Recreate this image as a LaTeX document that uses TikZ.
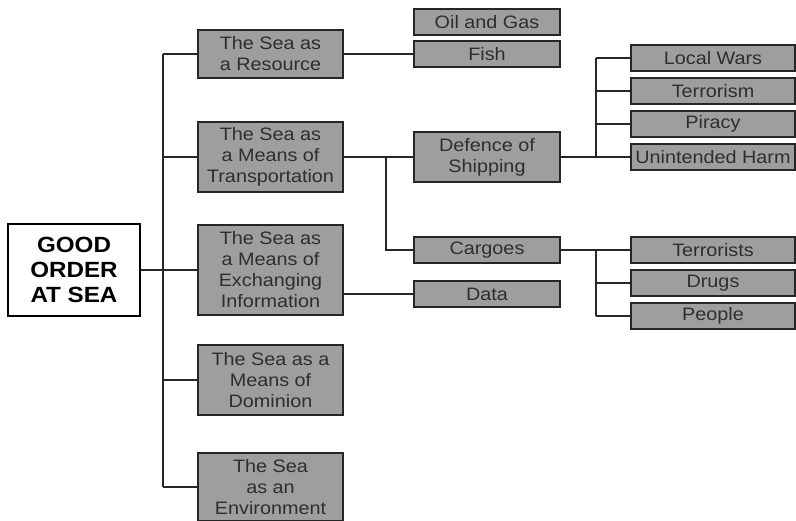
\documentclass[tikz,border=0pt]{standalone}
\usepackage{fontspec}
\setmainfont[FakeStretch=1.1]{Liberation Sans}
\usetikzlibrary{positioning}
\definecolor{boxgray}{HTML}{9E9E9E}
\definecolor{inkgray}{HTML}{2E2E2E}

\begin{document}
\begin{tikzpicture}[x=1pt, y=-1pt,
    rootbox/.style={rectangle, draw=black, line width=1.6pt, fill=white, align=center, inner sep=0pt, minimum width=132pt, minimum height=92pt, font=\fontsize{22}{25}\selectfont\bfseries},
    theme/.style={rectangle, draw=black!85, line width=1.6pt, fill=boxgray, text=inkgray, align=center, inner sep=0pt, minimum width=145pt, font=\fontsize{18}{21}\selectfont},
    item/.style={theme, minimum height=26pt},
    link/.style={draw=black!85, line width=1.8pt},
]
\useasboundingbox (0,0) rectangle (796,520);

% root and the five uses of the sea
\node[rootbox] (root) at (74,270) {GOOD\\ORDER\\AT SEA};
\node[theme, minimum height=48pt] (res) at (270.5,54) {The Sea as\\a Resource};
\node[theme, minimum height=70pt] (trans) at (270.5,157) {The Sea as\\a Means of\\Transportation};
\node[theme, minimum height=90pt] (info) at (270.5,270) {The Sea as\\a Means of\\Exchanging\\Information};
\node[theme, minimum height=70pt] (dom) at (270.5,380) {The Sea as a\\Means of\\Dominion};
\node[theme, minimum height=68pt] (env) at (270.5,487) {The Sea\\as an\\Environment};

\coordinate (trunk) at (163,0);
\draw[link] (root.east) -- (info.west);
\draw[link] (res.west -| trunk) -- (env.west -| trunk);
\foreach \n in {res, trans, dom, env} {
    \draw[link] (\n.west -| trunk) -- (\n.west);
}

% second level
\node[item, minimum width=146pt] (oil) at (487,22) {Oil and Gas};
\node[item, minimum width=146pt] (fish) at (487,54) {Fish};
\node[theme, minimum width=146pt, minimum height=50pt] (ship) at (487,157) {Defence of\\Shipping};
\node[item, minimum width=146pt] (cargo) at (487,250) {Cargoes};
\node[item, minimum width=146pt] (data) at (487,294) {Data};

\draw[link] (res.east) -- (fish.west);
\draw[link] (trans.east) -- (ship.west);
\coordinate (split) at (386,157);
\draw[link] (split) |- (cargo.west);
\draw[link] (data.west -| info.east) -- (data.west);

% threats to shipping
\foreach \n/\y/\t in {wars/58/Local Wars, terror/91/Terrorism, piracy/124/Piracy, harm/157/Unintended Harm} {
    \node[item, minimum width=164pt] (\n) at (713,\y) {\t};
}
\coordinate (fork) at (596,0);
\draw[link] (ship.east) -- (harm.west);
\draw[link] (wars.west -| fork) -- (harm.west -| fork);
\foreach \n in {wars, terror, piracy} {
    \draw[link] (\n.west -| fork) -- (\n.west);
}

% illicit cargoes
\foreach \n/\y/\t in {ists/250/Terrorists, drugs/283/Drugs, people/316/People} {
    \node[item, minimum width=164pt] (\n) at (713,\y) {\t};
}
\draw[link] (cargo.east) -- (ists.west);
\draw[link] (ists.west -| fork) -- (people.west -| fork);
\foreach \n in {drugs, people} {
    \draw[link] (\n.west -| fork) -- (\n.west);
}

\end{tikzpicture}
\end{document}
